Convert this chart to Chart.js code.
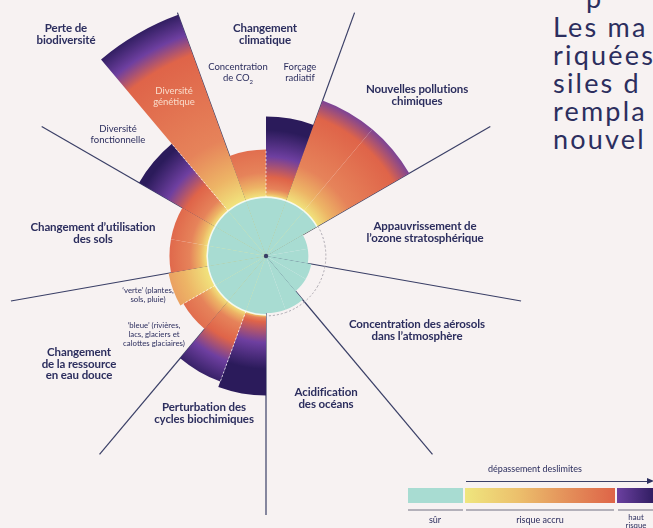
<!DOCTYPE html>
<html><head><meta charset="utf-8">
<script src="https://cdn.jsdelivr.net/npm/chart.js@4.4.0/dist/chart.umd.min.js"></script>
<style>
html,body{margin:0;padding:0;background:#f7f2f2;width:653px;height:528px;overflow:hidden;position:relative;font-family:Lato,'Noto Sans',sans-serif;color:#2c2e5e}
#wrap{position:absolute;left:7px;top:-3px;width:518px;height:518px}
.lb{position:absolute;transform:translateX(-50%);text-align:center;font-weight:700;font-size:11.5px;line-height:11.5px;white-space:nowrap;letter-spacing:-0.1px}
.sm{position:absolute;transform:translateX(-50%);text-align:center;font-weight:400;font-size:9.5px;line-height:10.5px;white-space:nowrap}
.xs{position:absolute;transform:translateX(-50%);text-align:center;font-weight:400;font-size:7.8px;line-height:9px;white-space:nowrap}
.big{position:absolute;left:553px;font-size:27px;font-weight:400;letter-spacing:2.2px;white-space:nowrap;line-height:28px;color:#2c2e5e}
.box{position:absolute}
</style></head>
<body>
<div id="wrap"><canvas id="c" width="518" height="518"></canvas></div>

<div class="lb" style="left:66px;top:22px">Perte de<br>biodiversité</div>
<div class="lb" style="left:265px;top:22px">Changement<br>climatique</div>
<div class="sm" style="left:238px;top:62px">Concentration<br>de CO<sub style="font-size:6px;line-height:0">2</sub></div>
<div class="sm" style="left:300px;top:62px">Forçage<br>radiatif</div>
<div class="lb" style="left:417px;top:83px">Nouvelles pollutions<br>chimiques</div>
<div class="lb" style="left:425px;top:220px">Appauvrissement de<br>l’ozone stratosphérique</div>
<div class="lb" style="left:417px;top:318px">Concentration des aérosols<br>dans l’atmosphère</div>
<div class="lb" style="left:326px;top:386px">Acidification<br>des océans</div>
<div class="lb" style="left:204px;top:401px">Perturbation des<br>cycles biochimiques</div>
<div class="lb" style="left:79px;top:346px">Changement<br>de la ressource<br>en eau douce</div>
<div class="lb" style="left:93px;top:221px">Changement d’utilisation<br>des sols</div>
<div class="sm" style="left:118px;top:124px">Diversité<br>fonctionnelle</div>
<div class="sm" style="left:174px;top:86px;color:#f9dccb">Diversité<br>génétique</div>
<div class="xs" style="left:148px;top:286px">‘verte’ (plantes,<br>sols, pluie)</div>
<div class="xs" style="left:154px;top:321px">‘bleue’ (rivières,<br>lacs, glaciers et<br>calottes glaciaires)</div>

<div class="big" style="top:-16.5px"><span style="margin-left:33px">p</span></div>
<div class="big" style="top:12.5px">Les ma</div>
<div class="big" style="top:40.5px">riquées</div>
<div class="big" style="top:68.5px">siles d</div>
<div class="big" style="top:96.5px">rempla</div>
<div class="big" style="top:124.5px">nouvel</div>

<div class="sm" style="left:535px;top:464px;font-size:9px">dépassement deslimites</div>
<div class="box" style="left:466px;top:481px;width:182px;height:1px;background:#3a3f66"></div>
<div class="box" style="left:647px;top:478px;width:0;height:0;border-top:3.5px solid transparent;border-bottom:3.5px solid transparent;border-left:7px solid #2c2e5e"></div>
<div class="box" style="left:408px;top:488px;width:55px;height:15px;background:#a8dcd2"></div>
<div class="box" style="left:465px;top:488px;width:150px;height:15px;background:linear-gradient(90deg,#efe67e,#ecc06c 35%,#e4905a 68%,#de6448)"></div>
<div class="box" style="left:617px;top:488px;width:40px;height:15px;background:linear-gradient(90deg,#6b40a0,#2b1a5c)"></div>
<div class="box" style="left:408px;top:509px;width:55px;height:1.5px;background:#b4b1ba"></div>
<div class="box" style="left:466px;top:509px;width:148px;height:1.5px;background:#b4b1ba"></div>
<div class="box" style="left:618px;top:509px;width:40px;height:1.5px;background:#b4b1ba"></div>
<div class="sm" style="left:435px;top:515px;font-size:9px">sûr</div>
<div class="sm" style="left:540px;top:515px;font-size:9px">risque accru</div>
<div class="xs" style="left:636px;top:514px;line-height:7.5px">haut<br>risque</div>

<script>
// ---- data (control variable, in "boundary" units: 1 = planetary boundary) ----
const sliceLabels = ["Concentration de CO₂","Forçage radiatif","Nouvelles pollutions chimiques","Nouvelles pollutions chimiques","Ozone stratosphérique","Ozone stratosphérique","Aérosols atmosphériques","Aérosols atmosphériques","Acidification des océans","Acidification des océans","Cycle du phosphore","Cycle de l’azote","Eau bleue","Eau verte","Utilisation des sols","Utilisation des sols","Diversité fonctionnelle","Diversité génétique"];
const values    = [1.81, 2.37, 2.81, 2.81, 0.72, 0.72, 0.78, 0.78, 0.97, 0.97, 2.37, 2.27, 1.62, 1.68, 1.64, 1.64, 2.49, 4.36];
const highRisk  = [2.00, 1.34, 2.50, 2.50, 2.00, 2.00, 2.00, 2.00, 2.00, 2.00, 1.12, 1.55, 1.75, 3.50, 1.70, 1.70, 1.58, 3.64];
const boundary  = 1;
const axisMax   = 4.4;
const subSplits = [1, 11, 13, 17]; // indices where a process is split in two sub-indicators

const safeValues = values.map(v => Math.min(v, boundary));
const riskValues = values.map(v => v > boundary ? v : 0);

const COL = {teal:'#a8dcd2', yellow:'#f1e47d', lightOrange:'#edb566', orange:'#e6835a', red:'#df6449', purple:'#6e3fa0', navy:'#2b1b5b', line:'#3a3f66'};

function riskGradient(ctx){
  const chart = ctx.chart, s = chart.scales.r, i = ctx.dataIndex;
  if (!s || s.drawingArea === undefined || i === undefined) return COL.red;
  const M = s.max, h = highRisk[i];
  const g = chart.ctx.createRadialGradient(s.xCenter, s.yCenter, 0, s.xCenter, s.yCenter, s.drawingArea);
  const stops = [[0,COL.yellow],[boundary,COL.yellow],[boundary+0.17*(h-boundary),COL.lightOrange],[boundary+0.42*(h-boundary),COL.orange],[h,COL.red],[h+0.35,COL.purple],[h+0.8,COL.navy],[M,COL.navy]];
  let last = 0;
  stops.forEach(([u,c]) => { const o = Math.max(last, Math.min(1, u/M)); g.addColorStop(o, c); last = o; });
  return g;
}

const extras = {
  id:'extras',
  afterDatasetsDraw(chart){
    const s = chart.scales.r, c = chart.ctx, n = values.length, step = 2*Math.PI/n;
    const a0 = s.getIndexAngle(0) - Math.PI/2;
    const R = s.getDistanceFromCenterForValue(boundary);
    c.save();
    c.strokeStyle = 'rgba(255,255,255,0.8)'; c.lineWidth = 1.6;
    for (let i=0;i<n;i++) if (values[i] > boundary){ c.beginPath(); c.arc(s.xCenter, s.yCenter, R, a0+i*step, a0+(i+1)*step); c.stroke(); }
    c.setLineDash([2,2]); c.strokeStyle = '#aaa6ae'; c.lineWidth = 1;
    for (let i=0;i<n;i++) if (values[i] <= boundary){ c.beginPath(); c.arc(s.xCenter, s.yCenter, R+1, a0+i*step, a0+(i+1)*step); c.stroke(); }
    c.strokeStyle = 'rgba(255,255,255,0.7)';
    subSplits.forEach(i => {
      const a = a0 + i*step, r2 = s.getDistanceFromCenterForValue(Math.min(values[i-1], values[i]));
      c.beginPath(); c.moveTo(s.xCenter+R*Math.cos(a), s.yCenter+R*Math.sin(a)); c.lineTo(s.xCenter+r2*Math.cos(a), s.yCenter+r2*Math.sin(a)); c.stroke();
    });
    c.restore();
  },
  afterDraw(chart){
    const s = chart.scales.r, c = chart.ctx;
    c.save(); c.fillStyle = COL.line; c.beginPath(); c.arc(s.xCenter, s.yCenter, 2.2, 0, 2*Math.PI); c.fill(); c.restore();
  }
};

new Chart(document.getElementById('c'), {
  type:'polarArea',
  data:{
    labels: sliceLabels,
    datasets:[
      {label:'sûr', data: safeValues, backgroundColor: COL.teal, borderWidth:0},
      {label:'dépassement', data: riskValues, backgroundColor: riskGradient, borderWidth:0}
    ]
  },
  options:{
    responsive:false, animation:false,
    layout:{padding:0},
    plugins:{legend:{display:false}, tooltip:{enabled:false}},
    scales:{ r:{
      min:0, max:axisMax, startAngle:-20, z:1,
      ticks:{display:false},
      grid:{display:false},
      pointLabels:{display:false},
      angleLines:{display:true, lineWidth:1.2, color: ctx => ctx.index % 2 === 0 ? COL.line : 'rgba(0,0,0,0)'}
    }}
  },
  plugins:[extras]
});
</script>
</body></html>
